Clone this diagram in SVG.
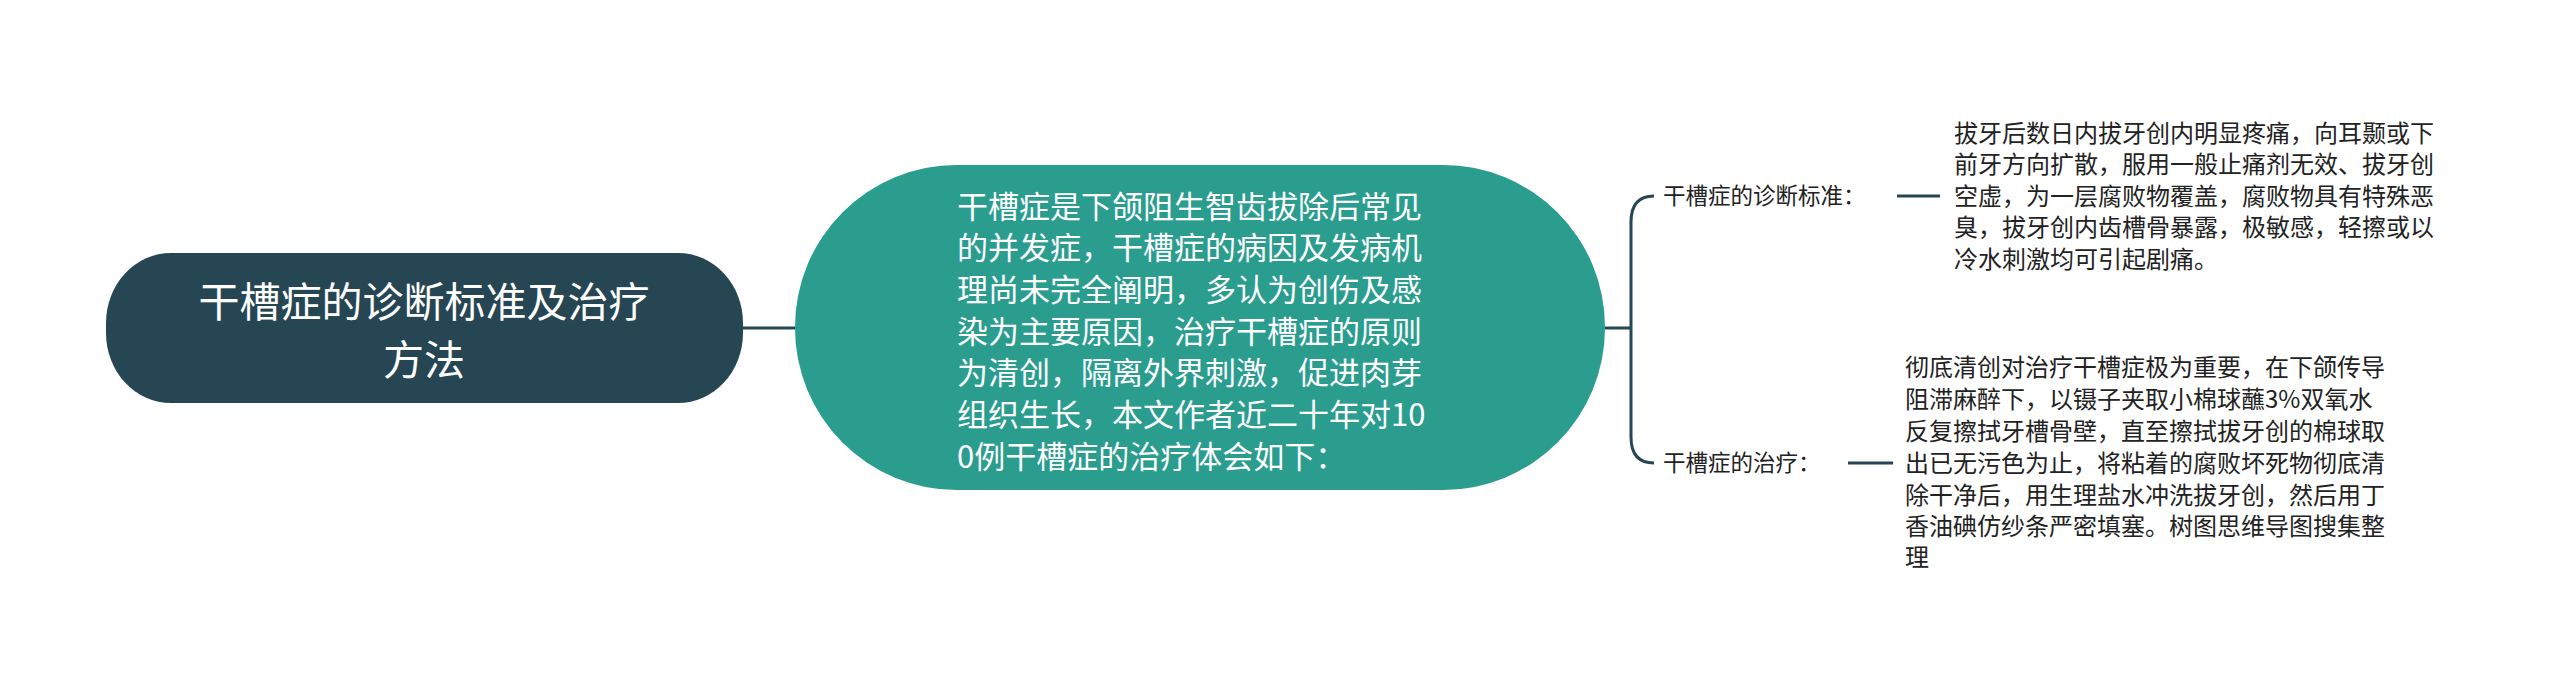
<svg xmlns="http://www.w3.org/2000/svg" width="2560" height="688" viewBox="0 0 2560 688">
<style>
.t{font-family:"Noto Sans CJK SC","Noto Sans",sans-serif;}
.root{fill:#fff;font-size:41px;text-anchor:middle;}
.mid{fill:#fff;font-size:31px;}
.lab{fill:#222;font-size:22.5px;}
.desc{fill:#222;font-size:24px;}
.con{fill:none;stroke:#264653;stroke-width:3;}
</style>
<rect width="2560" height="688" fill="#fff"/>
<g id="connectors">
<path class="con" d="M743 328 H795"/>
<path class="con" d="M1605 328 H1630"/>
<path class="con" d="M1654 196 Q1631 196 1631 222 V437 Q1631 463 1654 463"/>
<path class="con" d="M1897 196 H1940" stroke-width="4"/>
<path class="con" d="M1848 463 H1893" stroke-width="4"/>
</g>
<g id="root">
<rect x="106" y="253" width="637" height="150" rx="65" ry="70" fill="#264653"/>
<text class="t root" x="424" y="317">干槽症的诊断标准及治疗</text>
<text class="t root" x="424" y="375">方法</text>
</g>
<g id="center">
<rect x="795" y="165" width="810" height="325" rx="162" ry="162" fill="#2a9d8f"/>
<text class="t mid" x="957" y="218">干槽症是下颌阻生智齿拔除后常见</text>
<text class="t mid" x="957" y="259">的并发症，干槽症的病因及发病机</text>
<text class="t mid" x="957" y="301">理尚未完全阐明，多认为创伤及感</text>
<text class="t mid" x="957" y="343">染为主要原因，治疗干槽症的原则</text>
<text class="t mid" x="957" y="384">为清创，隔离外界刺激，促进肉芽</text>
<text class="t mid" x="957" y="426">组织生长，本文作者近二十年对10</text>
<text class="t mid" x="957" y="468">0例干槽症的治疗体会如下：</text>
</g>
<g id="label1">
<text class="t lab" x="1663" y="204">干槽症的诊断标准：</text>
</g>
<g id="desc1">
<text class="t desc" x="1954" y="142">拔牙后数日内拔牙创内明显疼痛，向耳颞或下</text>
<text class="t desc" x="1954" y="173">前牙方向扩散，服用一般止痛剂无效、拔牙创</text>
<text class="t desc" x="1954" y="205">空虚，为一层腐败物覆盖，腐败物具有特殊恶</text>
<text class="t desc" x="1954" y="236">臭，拔牙创内齿槽骨暴露，极敏感，轻擦或以</text>
<text class="t desc" x="1954" y="268">冷水刺激均可引起剧痛。</text>
</g>
<g id="label2">
<text class="t lab" x="1663" y="471">干槽症的治疗：</text>
</g>
<g id="desc2">
<text class="t desc" x="1905" y="376">彻底清创对治疗干槽症极为重要，在下颌传导</text>
<text class="t desc" x="1905" y="408">阻滞麻醉下，以镊子夹取小棉球蘸3%双氧水</text>
<text class="t desc" x="1905" y="440">反复擦拭牙槽骨壁，直至擦拭拔牙创的棉球取</text>
<text class="t desc" x="1905" y="472">出已无污色为止，将粘着的腐败坏死物彻底清</text>
<text class="t desc" x="1905" y="504">除干净后，用生理盐水冲洗拔牙创，然后用丁</text>
<text class="t desc" x="1905" y="535">香油碘仿纱条严密填塞。树图思维导图搜集整</text>
<text class="t desc" x="1905" y="566">理</text>
</g>
</svg>
